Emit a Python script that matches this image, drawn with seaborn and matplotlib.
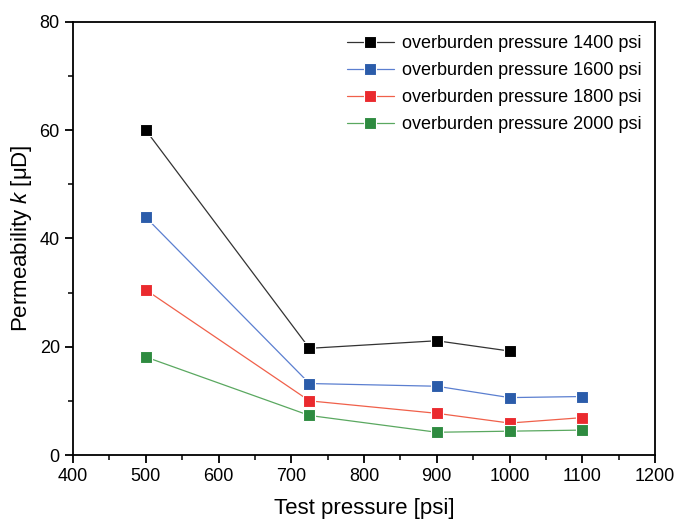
import matplotlib
matplotlib.use("Agg")
import matplotlib.pyplot as plt
import seaborn as sns
import pandas as pd
import numpy as np
from matplotlib.ticker import MultipleLocator

test_pressure = [500, 725, 900, 1000, 1100]
k_1400 = [60.0, 19.7, 21.1, 19.2, np.nan]
k_1600 = [43.9, 13.2, 12.7, 10.6, 10.8]
k_1800 = [30.5, 10.0, 7.7, 5.9, 6.9]
k_2000 = [18.1, 7.3, 4.2, 4.4, 4.6]
series_labels = ["overburden pressure 1400 psi", "overburden pressure 1600 psi",
                 "overburden pressure 1800 psi", "overburden pressure 2000 psi"]
marker_colors = ["#000000", "#2b5caa", "#ea2a2e", "#2e8b40"]
line_colors = ["#333333", "#5b7fd0", "#f0604a", "#5aa860"]

sns.set_theme(style="ticks")
plt.rcParams['font.family'] = ['Liberation Sans', 'DejaVu Sans']
plt.rcParams['mathtext.fontset'] = 'custom'
plt.rcParams['mathtext.it'] = 'Liberation Sans:italic'
plt.rcParams['mathtext.rm'] = 'Liberation Sans'
plt.rcParams['text.color'] = 'black'
plt.rcParams['axes.labelcolor'] = 'black'

rows = []
for lab, vals in zip(series_labels, [k_1400, k_1600, k_1800, k_2000]):
    for x, v in zip(test_pressure, vals):
        if not np.isnan(v):
            rows.append({"x": x, "k": v, "series": lab})
df = pd.DataFrame(rows)

fig = plt.figure(figsize=(6.76, 5.2), dpi=100)
ax = fig.add_axes([0.108, 0.125, 0.861, 0.833])

for lab, lc, mc in zip(series_labels, line_colors, marker_colors):
    sub = df[df.series == lab]
    sns.lineplot(data=sub, x="x", y="k", ax=ax, color=lc, linewidth=0.9,
                 marker="s", markersize=9, markerfacecolor=mc,
                 markeredgecolor="white", markeredgewidth=0.8, label=lab)

ax.set_xlim(400, 1200)
ax.set_ylim(0, 80)
ax.xaxis.set_major_locator(MultipleLocator(100))
ax.xaxis.set_minor_locator(MultipleLocator(50))
ax.yaxis.set_major_locator(MultipleLocator(20))
ax.yaxis.set_minor_locator(MultipleLocator(10))
ax.tick_params(which="major", direction="out", length=6, width=1.3, labelsize=13, colors="black")
ax.tick_params(which="minor", direction="out", length=3.5, width=1.3)
for s in ax.spines.values():
    s.set_linewidth(1.3)
    s.set_color("black")
    s.set_visible(True)

ax.set_xlabel("Test pressure [psi]", fontsize=16, labelpad=9)
ax.set_ylabel("Permeability $k$ [μD]", fontsize=16, labelpad=4)

leg = ax.legend(loc="upper right", frameon=False, fontsize=13, handlelength=2.6,
                handletextpad=0.45, labelspacing=0.55, borderaxespad=0.4,
                borderpad=0.35)

fig.savefig("out.png", dpi=100)
